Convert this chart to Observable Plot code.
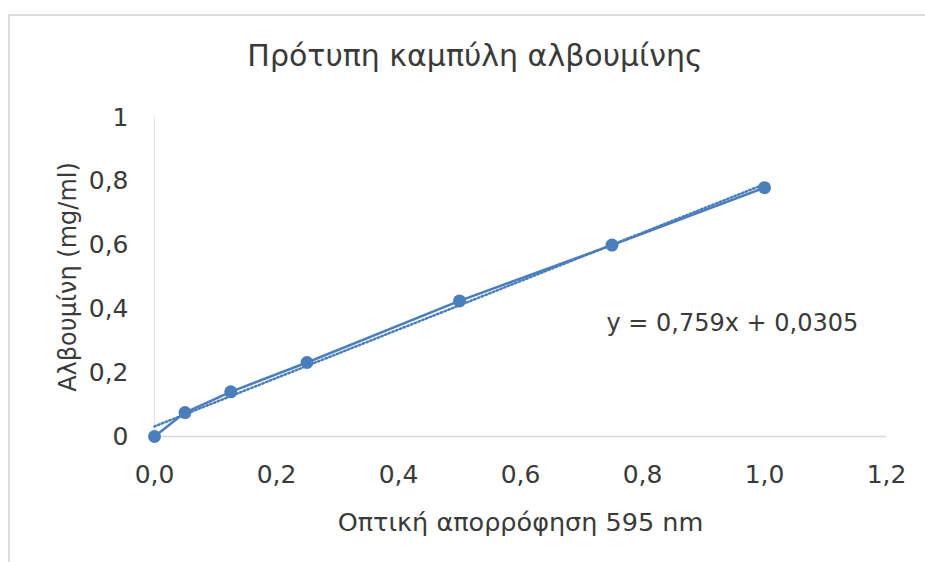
<!DOCTYPE html>
<html>
<head>
<meta charset="utf-8">
<script src="https://cdn.jsdelivr.net/npm/d3@7"></script>
<script src="https://cdn.jsdelivr.net/npm/@observablehq/plot@0.6"></script>
<style>
  html, body { margin: 0; padding: 0; background: #fff; }
  #wrap { position: relative; width: 925px; height: 562px; overflow: hidden; font-family: "DejaVu Sans", sans-serif; }
  #frame { position: absolute; left: 8px; top: 14px; width: 940px; height: 600px;
           border-top: 2px solid #dcdcdc; border-left: 2px solid #dcdcdc; }
  #title { position: absolute; left: 0; width: 950px; top: 40px; text-align: center;
           font-size: 30px; line-height: 32px; color: #3a3a3a; }
  #chart { position: absolute; left: 0; top: 0; }
</style>
</head>
<body>
<div id="wrap">
  <div id="frame"></div>
  <div id="title"></div>
  <div id="chart"></div>
</div>
<script>
const title = "Πρότυπη καμπύλη αλβουμίνης";
const xLabel = "Οπτική απορρόφηση 595 nm";
const yLabel = "Αλβουμίνη (mg/ml)";
const equation = "y = 0,759x + 0,0305";

const absorbance = [0, 0.05, 0.125, 0.25, 0.5, 0.75, 1.0];
const albumin = [0, 0.075, 0.14, 0.232, 0.425, 0.6, 0.78];

const xTicks = [0, 0.2, 0.4, 0.6, 0.8, 1.0, 1.2];
const xTickLabels = ["0,0", "0,2", "0,4", "0,6", "0,8", "1,0", "1,2"];
const yTicks = [0, 0.2, 0.4, 0.6, 0.8, 1];
const yTickLabels = ["0", "0,2", "0,4", "0,6", "0,8", "1"];

const data = absorbance.map((x, i) => ({x, y: albumin[i]}));
const blue = "#4a7ebb";
const text = "#3a3a3a";

document.getElementById("title").textContent = title;

const chart = Plot.plot({
  width: 925,
  height: 562,
  marginLeft: 154,
  marginRight: 39,
  marginTop: 117,
  marginBottom: 126,
  style: {fontFamily: "DejaVu Sans, sans-serif", background: "transparent", color: text},
  x: {domain: [0, 1.2]},
  y: {domain: [0, 1]},
  marks: [
    Plot.ruleY([0], {stroke: "#d9d9d9", strokeWidth: 1.5}),
    Plot.ruleX([0], {stroke: "#e3e3e3", strokeWidth: 1}),
    Plot.axisX({ticks: xTicks, tickFormat: (d, i) => xTickLabels[i], tickSize: 0, tickPadding: 29, fontSize: 25, label: null, fill: text}),
    Plot.axisY({ticks: yTicks, tickFormat: (d, i) => yTickLabels[i], tickSize: 0, tickPadding: 26, fontSize: 25, label: null, fill: text}),
    Plot.text([xLabel], {frameAnchor: "bottom", lineAnchor: "middle", textAnchor: "middle", dy: 86, fontSize: 25.5, fill: text}),
    Plot.text([yLabel], {frameAnchor: "left", lineAnchor: "middle", textAnchor: "middle", rotate: -90, dx: -86, fontSize: 24, fill: text}),
    Plot.linearRegressionY(data, {x: "x", y: "y", stroke: blue, strokeWidth: 2.5, strokeDasharray: "1.5 2.5", ci: 0}),
    Plot.line(data, {x: "x", y: "y", stroke: blue, strokeWidth: 2.5}),
    Plot.dot(data, {x: "x", y: "y", r: 6.5, fill: blue}),
    Plot.text([equation], {frameAnchor: "top-left", lineAnchor: "middle", dx: 452, dy: 206, textAnchor: "start", fontSize: 24, fill: text})
  ]
});
document.getElementById("chart").appendChild(chart);
</script>
</body>
</html>
